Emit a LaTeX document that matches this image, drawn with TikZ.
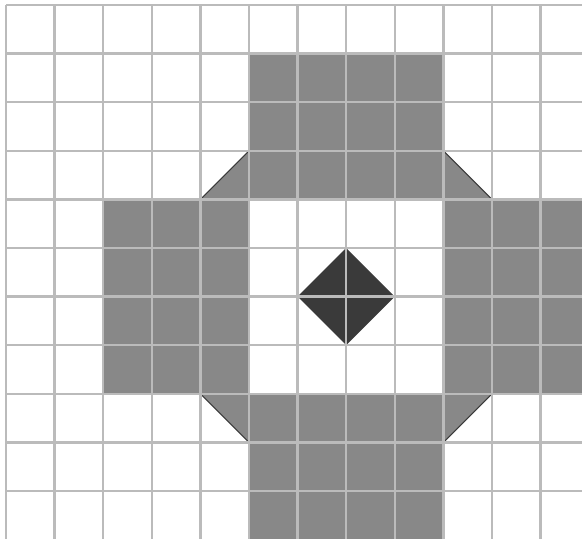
\documentclass[tikz,border=0pt]{standalone}
\definecolor{cellgray}{HTML}{888888}
\definecolor{darkgray}{HTML}{3A3A3A}
\definecolor{gridgray}{HTML}{BBBBBB}
\begin{document}
\begin{tikzpicture}[x=48.6pt,y=-48.6pt,
  cell/.style={fill=cellgray},
  gridline/.style={draw=gridgray,line width=2.3pt},
  edgeline/.style={draw=darkgray,line width=1pt}]
\begin{scope}[shift={(-0.1235,-0.1029)}]
\end{scope}
% bounding box: reference 582x539 px, grid origin at (6,5) px, cell 48.6 px
\useasboundingbox[fill=white] (-0.1235,-0.1029) rectangle (11.8519,10.9877);
\clip (-0.1235,-0.1029) rectangle (11.8519,10.9877);
% shaded blocks
\fill[cell] (5,1) rectangle (9,4);
\fill[cell] (2,4) rectangle (5,8);
\fill[cell] (9,4) rectangle (12.5,8);
\fill[cell] (5,8) rectangle (9,11.5);
% corner triangles
\fill[cell] (5,3) -- (4,4) -- (5,4) -- cycle;
\fill[cell] (9,3) -- (10,4) -- (9,4) -- cycle;
\fill[cell] (4,8) -- (5,8) -- (5,9) -- cycle;
\fill[cell] (9,8) -- (10,8) -- (9,9) -- cycle;
\draw[edgeline] (5,3) -- (4,4);
\draw[edgeline] (9,3) -- (10,4);
\draw[edgeline] (4,8) -- (5,9);
\draw[edgeline] (10,8) -- (9,9);
% central diamond
\fill[darkgray] (7,5) -- (8,6) -- (7,7) -- (6,6) -- cycle;
% grid
\foreach \i in {0,...,11} \draw[gridline] (\i,0) -- (\i,11.5);
\foreach \j in {0,...,10} \draw[gridline] (0,\j) -- (12.5,\j);
\end{tikzpicture}
\end{document}
